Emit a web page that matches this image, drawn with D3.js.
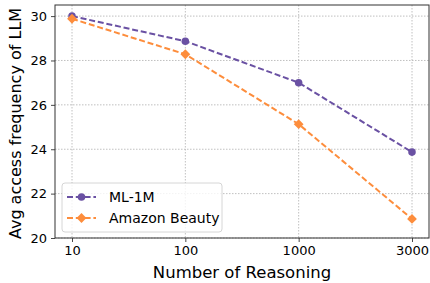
<!DOCTYPE html>
<html>
<head>
<meta charset="utf-8">
<script src="https://cdn.jsdelivr.net/npm/d3@7"></script>
<style>
  body { margin: 0; background: #fff; }
  svg { font-family: "DejaVu Sans", sans-serif; }
</style>
</head>
<body>
<svg id="chart"></svg>
<script>
const categories = ["10", "100", "1000", "3000"];
const ml1m = [30.0, 28.87, 27.0, 23.87];
const beauty = [29.88, 28.28, 25.13, 20.86];
const yTicks = [20, 22, 24, 26, 28, 30];

// matplotlib-like markers: circle and "D" (square turned 45deg)
const series = [
  { name: "ML-1M", values: ml1m, color: "#6a51a3", symbol: d3.symbolCircle, size: 45, rot: 0 },
  { name: "Amazon Beauty", values: beauty, color: "#fd8d3c", symbol: d3.symbolSquare, size: 48, rot: 45 },
];

const width = 430;
const height = 283;
const margin = { top: 5, right: 1, bottom: 45, left: 55 };
const innerWidth = width - margin.left - margin.right;
const innerHeight = height - margin.top - margin.bottom;

const svg = d3.select("#chart").attr("width", width).attr("height", height);
const chartArea = svg.append("g").attr("transform", `translate(${margin.left},${margin.top})`);

const xScale = d3.scalePoint().domain(categories).range([0, innerWidth]).padding(0.15);
const yScale = d3.scaleLinear().domain([20, 30.5]).range([innerHeight, 0]);

// grid
chartArea.append("g")
  .selectAll("line")
  .data(categories)
  .enter()
  .append("line")
  .attr("x1", (d) => xScale(d)).attr("x2", (d) => xScale(d))
  .attr("y1", 0).attr("y2", innerHeight)
  .attr("stroke", "#b0b0b0").attr("stroke-width", 0.8).attr("stroke-dasharray", "1.5,1.5");

chartArea.append("g")
  .selectAll("line")
  .data(yTicks)
  .enter()
  .append("line")
  .attr("x1", 0).attr("x2", innerWidth)
  .attr("y1", (d) => yScale(d)).attr("y2", (d) => yScale(d))
  .attr("stroke", "#b0b0b0").attr("stroke-width", 0.8).attr("stroke-dasharray", "1.5,1.5");

// axes
const xAxis = chartArea.append("g")
  .attr("transform", `translate(0,${innerHeight})`)
  .call(d3.axisBottom(xScale).tickSize(4).tickPadding(4));
const yAxis = chartArea.append("g")
  .call(d3.axisLeft(yScale).tickValues(yTicks).tickSize(4).tickPadding(4));

[xAxis, yAxis].forEach((ax) => {
  ax.select(".domain").remove();
  ax.selectAll(".tick line").attr("stroke", "#333").attr("stroke-width", 0.9);
  ax.selectAll("text").attr("fill", "#000").style("font-size", "13px").style("font-family", "DejaVu Sans");
});

// frame
chartArea.append("rect")
  .attr("width", innerWidth).attr("height", innerHeight)
  .attr("fill", "none").attr("stroke", "#333").attr("stroke-width", 1);

// lines + markers
const line = d3.line()
  .x((d, i) => xScale(categories[i]))
  .y((d) => yScale(d));

series.forEach((s) => {
  chartArea.append("path")
    .datum(s.values)
    .attr("fill", "none")
    .attr("stroke", s.color)
    .attr("stroke-width", 2)
    .attr("stroke-dasharray", "6,2.8")
    .attr("d", line);

  chartArea.selectAll(null)
    .data(s.values)
    .enter()
    .append("path")
    .attr("transform", (d, i) => `translate(${xScale(categories[i])},${yScale(d)}) rotate(${s.rot})`)
    .attr("d", d3.symbol().type(s.symbol).size(s.size))
    .attr("fill", s.color);
});

// legend
const legend = chartArea.append("g").attr("transform", "translate(7,178)");
legend.append("rect")
  .attr("width", 160).attr("height", 49).attr("rx", 3)
  .attr("fill", "#fff").attr("fill-opacity", 0.8)
  .attr("stroke", "#ccc").attr("stroke-width", 0.8);

series.forEach((s, i) => {
  const row = legend.append("g").attr("transform", `translate(0,${14 + i * 21})`);
  row.append("line")
    .attr("x1", 5).attr("x2", 34)
    .attr("stroke", s.color).attr("stroke-width", 2).attr("stroke-dasharray", "6,2.8");
  row.append("path")
    .attr("transform", `translate(19.5,0) rotate(${s.rot})`)
    .attr("d", d3.symbol().type(s.symbol).size(s.size))
    .attr("fill", s.color);
  row.append("text")
    .attr("x", 47).attr("y", 0).attr("dy", "0.35em")
    .style("font-size", "14px")
    .text(s.name);
});

// axis labels
svg.append("text")
  .attr("text-anchor", "middle")
  .attr("x", margin.left + innerWidth / 2)
  .attr("y", height - 5)
  .style("font-size", "16.5px")
  .text("Number of Reasoning");

svg.append("text")
  .attr("text-anchor", "middle")
  .attr("transform", "rotate(-90)")
  .attr("x", -(margin.top + innerHeight / 2 + 2))
  .attr("y", 21)
  .style("font-size", "16px")
  .text("Avg access frequency of LLM");
</script>
</body>
</html>
